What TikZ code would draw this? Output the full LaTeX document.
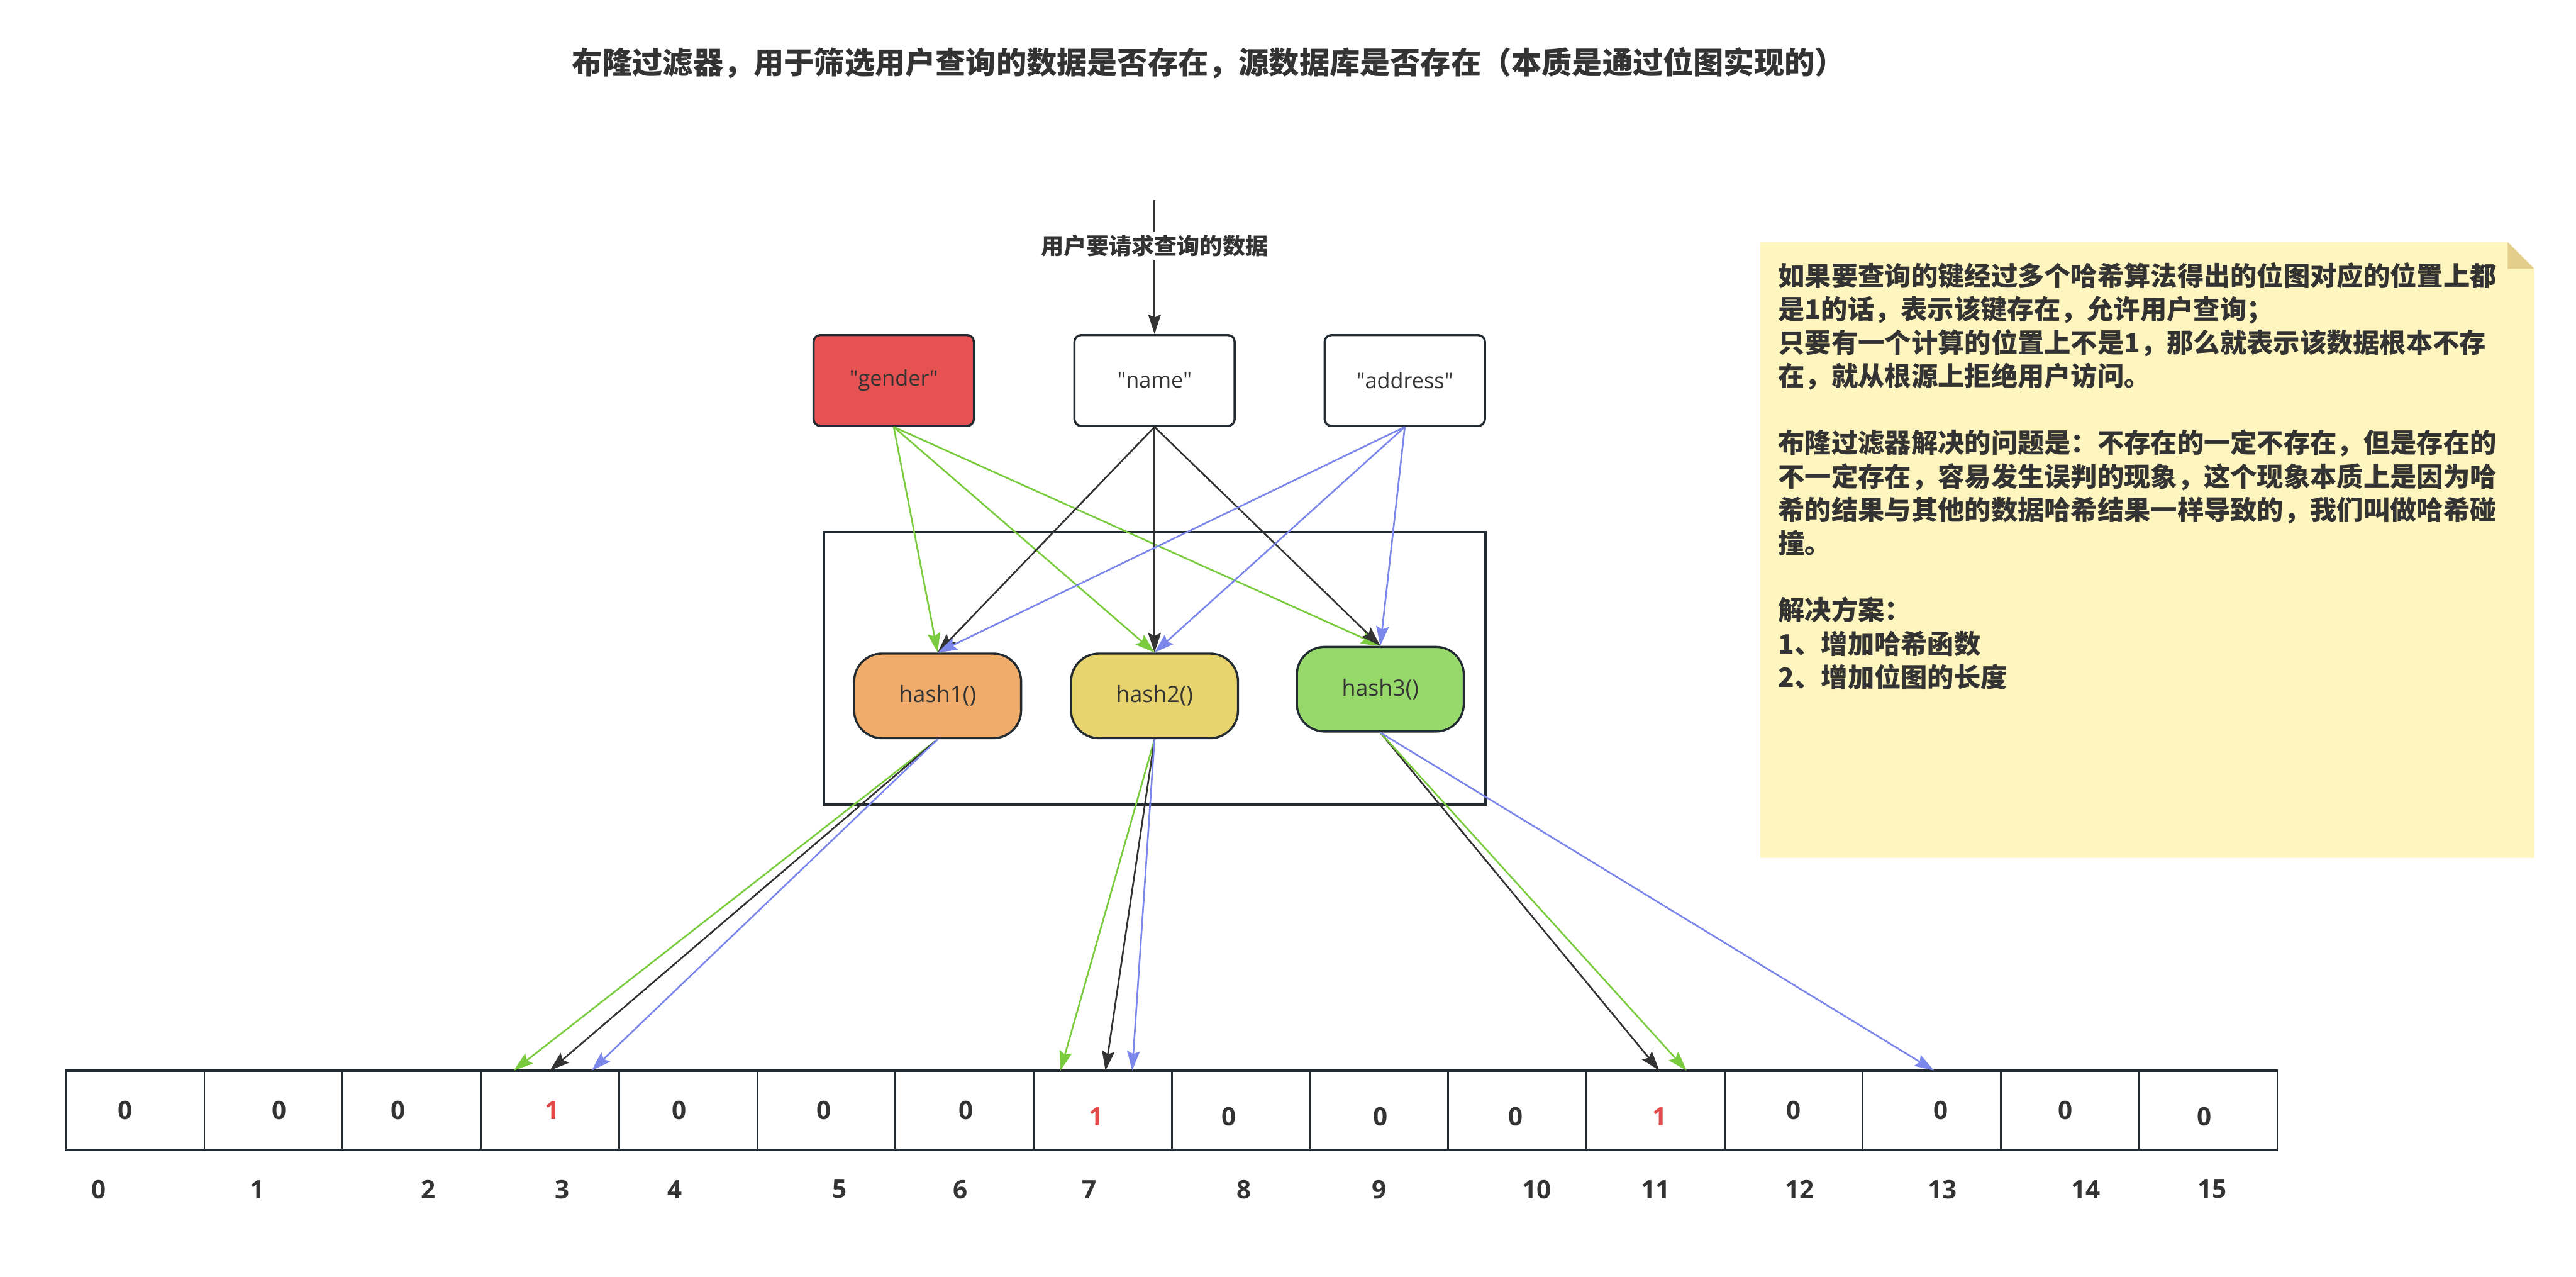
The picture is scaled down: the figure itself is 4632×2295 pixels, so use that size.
\documentclass[tikz,border=0pt]{standalone}
\usepackage{fontspec}
\setmainfont{Open Sans}
\newfontfamily\cjk{Noto Sans CJK SC}
\usetikzlibrary{positioning,arrows.meta}
\definecolor{ink}{HTML}{333333}
\definecolor{edge}{HTML}{232B32}
\definecolor{keyred}{HTML}{E65151}
\definecolor{hashorange}{HTML}{F0AC6A}
\definecolor{hashyellow}{HTML}{E8D46E}
\definecolor{hashgreen}{HTML}{97D96A}
\definecolor{arrgreen}{HTML}{7ACC3E}
\definecolor{arrblue}{HTML}{7C87EC}
\definecolor{notefill}{HTML}{FFF5BF}
\definecolor{notefold}{HTML}{E3CF8B}
\definecolor{bitred}{HTML}{E24B4B}

\begin{document}
\begin{tikzpicture}[
    x=0.01cm, y=-0.01cm,
    keybox/.style={
        rectangle,
        draw=edge,
        line width=1.1pt,
        rounded corners=0.12cm,
        minimum width=2.88cm,
        minimum height=1.63cm,
        text=ink,
        font=\fontsize{11pt}{13pt}\selectfont
    },
    hashbox/.style={
        rectangle,
        draw=edge,
        line width=1.1pt,
        rounded corners=0.5cm,
        minimum width=3cm,
        minimum height=1.52cm,
        text=ink,
        font=\fontsize{11.5pt}{13pt}\selectfont
    },
    bit/.style={rectangle, draw=edge, line width=0.8pt, minimum width=2.485cm, minimum height=1.4cm, inner sep=0pt},
    digit/.style={font=\bfseries\fontsize{13pt}{15pt}\selectfont},
    link/.style={->, >={Stealth[length=10pt,width=6.5pt,inset=1.5pt]}, line width=0.85pt}
]
    \useasboundingbox (0,0) rectangle (4632,2295);

    % Title
    \node[text=ink, font=\cjk\bfseries\fontsize{15.5pt}{18pt}\selectfont] (title) at (2173,113)
        {布隆过滤器，用于筛选用户查询的数据是否存在，源数据库是否存在（本质是通过位图实现的）};

    % Keys
    \node[keybox, fill=keyred] (gender) at (1607,684) {\textquotedbl gender\textquotedbl};
    \node[keybox, fill=white] (name) at (2076,684) {\textquotedbl name\textquotedbl};
    \node[keybox, fill=white] (address) at (2526,684) {\textquotedbl address\textquotedbl};

    \coordinate (src) at (2076,360);
    \draw[link, ink] (src) -- node[pos=0.34, fill=white, inner sep=1.5pt, text=ink, font=\cjk\bfseries\fontsize{11.6pt}{14pt}\selectfont] (ask) {用户要请求查询的数据} (name);

    % Hash functions
    \draw[edge, line width=1.2pt] (1481,957) rectangle (2671,1446);
    \node[hashbox, fill=hashorange] (hash1) at (1686,1251) {hash1()};
    \node[hashbox, fill=hashyellow] (hash2) at (2076,1251) {hash2()};
    \node[hashbox, fill=hashgreen] (hash3) at (2482,1239) {hash3()};

    % Bitmap
    \foreach \i in {0,...,15}
        \node[bit] (c\i) at ({119+248.5*(\i+0.5)},1996) {};
    \draw[edge, line width=1.4pt] (c0.north west) -- (c15.north east);
    \draw[edge, line width=1.4pt] (c0.south west) -- (c15.south east);

    \foreach \i/\x/\y/\v/\c in {0/225/1996/0/ink, 1/502/1996/0/ink, 2/716/1996/0/ink, 3/993/1996/1/bitred,
        4/1221/1996/0/ink, 5/1482/1996/0/ink, 6/1737/1996/0/ink, 7/1971/2007/1/bitred,
        8/2210/2007/0/ink, 9/2482/2007/0/ink, 10/2725/2007/0/ink, 11/2984/2007/1/bitred,
        12/3225/1996/0/ink, 13/3490/1996/0/ink, 14/3714/1996/0/ink, 15/3964/2007/0/ink}
        \node[digit, text=\c] (v\i) at (\x,\y) {\v};

    \foreach \i/\x in {0/178, 1/462, 2/770, 3/1011, 4/1214, 5/1510, 6/1727, 7/1959,
        8/2237, 9/2480, 10/2763, 11/2977, 12/3236, 13/3493, 14/3750, 15/3978}
        \node[digit, text=ink] (n\i) at (\x,2138) {\i};

    % Keys to hash functions
    \draw[link, arrgreen] (gender.south) -- (hash1.north);
    \draw[link, arrgreen] (gender.south) -- (hash2.north);
    \draw[link, arrgreen] (gender.south) -- (hash3.north);
    \draw[link, ink] (name.south) -- (hash1.north);
    \draw[link, ink] (name.south) -- (hash2.north);
    \draw[link, ink] (name.south) -- (hash3.north);
    \draw[link, arrblue] (address.south) -- (hash1.north);
    \draw[link, arrblue] (address.south) -- (hash2.north);
    \draw[link, arrblue] (address.south) -- (hash3.north);

    % Hash functions to bitmap
    \draw[link, arrgreen] (hash1.south) -- ([xshift=-0.65cm]c3.north);
    \draw[link, ink] (hash1.south) -- (c3.north);
    \draw[link, arrblue] (hash1.south) -- ([xshift=0.75cm]c3.north);
    \draw[link, arrgreen] (hash2.south) -- ([xshift=-0.76cm]c7.north);
    \draw[link, ink] (hash2.south) -- ([xshift=0.05cm]c7.north);
    \draw[link, arrblue] (hash2.south) -- ([xshift=0.53cm]c7.north);
    \draw[link, ink] (hash3.south) -- ([xshift=0.07cm]c11.north);
    \draw[link, arrgreen] (hash3.south) -- ([xshift=0.56cm]c11.north);
    \draw[link, arrblue] (hash3.south) -- ([xshift=0.04cm]c13.north);

    % Note
    \fill[notefill] (3165,435) -- (4509,435) -- (4557,483) -- (4557,1542) -- (3165,1542) -- cycle;
    \fill[notefold] (4509,435) -- (4509,483) -- (4557,483) -- cycle;
    \node[anchor=north west, align=left, inner sep=0pt, text=ink, font=\cjk\bfseries\fontsize{13.6pt}{17.1pt}\selectfont] (note) at (3197,471)
        {如果要查询的键经过多个哈希算法得出的位图对应的位置上都\\
         是1的话，表示该键存在，允许用户查询；\\
         只要有一个计算的位置上不是1，那么就表示该数据根本不存\\
         在，就从根源上拒绝用户访问。\\[17.1pt]
         布隆过滤器解决的问题是：不存在的一定不存在，但是存在的\\
         不一定存在，容易发生误判的现象，这个现象本质上是因为哈\\
         希的结果与其他的数据哈希结果一样导致的，我们叫做哈希碰\\
         撞。\\[17.1pt]
         解决方案：\\
         1、增加哈希函数\\
         2、增加位图的长度};
\end{tikzpicture}
\end{document}
